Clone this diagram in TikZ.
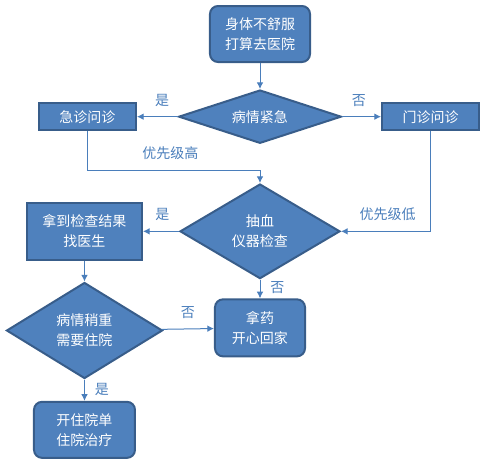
\documentclass[tikz,border=0pt]{standalone}
\usepackage{fontspec}
\setmainfont{Noto Sans CJK SC}
\usetikzlibrary{shapes, arrows.meta, positioning}

\definecolor{boxblue}{HTML}{4F81BD}
\definecolor{boxedge}{HTML}{385D8A}
\definecolor{linkblue}{HTML}{4A7EBB}

\begin{document}
\begin{tikzpicture}[auto, node distance=21pt, >=Latex, font=\fontsize{10.5}{15}\selectfont]
    % Define the styles
    \tikzset{
        block/.style = {draw=boxedge, fill=boxblue, line width=1.5pt, rectangle, text=white, align=center, inner sep=0pt},
        roundblock/.style = {block, rounded corners=6pt},
        decision/.style = {draw=boxedge, fill=boxblue, line width=1.5pt, diamond, aspect=2, text=white, align=center, inner sep=0pt},
        line/.style = {draw=linkblue, line width=0.75pt, -{Latex[length=5pt, width=5pt]}},
        note/.style = {text=linkblue},
    }

    \useasboundingbox (-195pt,25.5pt) rectangle (174pt,-326.25pt);

    % Nodes placement
    \node [roundblock, minimum width=75pt, minimum height=42pt] (start) {身体不舒服\\打算去医院};
    \node [decision, aspect=3, below=19.5pt of start, minimum width=122pt, minimum height=40pt] (urgent) {病情紧急};
    \node [block, left=30.5pt of urgent, minimum width=72.75pt, minimum height=20.25pt] (emergency) {急诊问诊};
    \node [block, right=29pt of urgent, minimum width=72.75pt, minimum height=20.25pt] (outpatient) {门诊问诊};
    \node [decision, below=29pt of urgent, minimum width=120pt, minimum height=71pt] (test) {抽血\\仪器检查};
    \node [block, left=27pt of test, minimum width=86.25pt, minimum height=42.75pt] (results) {拿到检查结果\\找医生};
    \node [decision, below=15.5pt of results, minimum width=117pt, minimum height=72pt] (serious) {病情稍重\\需要住院};
    \node [roundblock, below=14pt of test, minimum width=67.5pt, minimum height=42.75pt] (home) {拿药\\开心回家};
    \node [roundblock, below=16pt of serious, minimum width=75.75pt, minimum height=42pt] (admit) {开住院单\\住院治疗};

    % Connecting lines
    \draw [line] (start) -- (urgent);
    \draw [line] (urgent) -- node[note, above=4pt, pos=0.38] {是} (emergency);
    \draw [line] (urgent) -- node[note, above=4pt, pos=0.43] {否} (outpatient);
    \draw [line] (emergency.south) -- ++(0,-29.25pt) -| node[note, above=4pt, pos=0.24] {优先级高} (test.north);
    \draw [line] (outpatient.south) |- node[note, above=4pt, pos=0.74] {优先级低} (test.east);
    \draw [line] (test) -- node[note, above=4pt, pos=0.46] {是} (results);
    \draw [line] (test) -- node[note, right=4pt, pos=0.4] {否} (home);
    \draw [line] (results) -- (serious);
    \draw [line] (serious) -- node[note, above=4pt, pos=0.5] {否} (home);
    \draw [line] (serious) -- node[note, right=4pt, pos=0.45] {是} (admit);

\end{tikzpicture}
\end{document}
